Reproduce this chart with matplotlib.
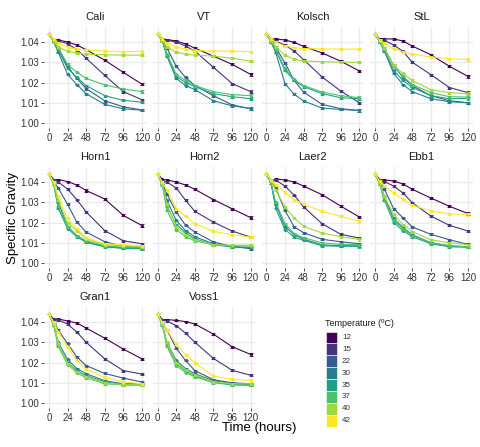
import numpy as np
import matplotlib
matplotlib.use('Agg')
import matplotlib.pyplot as plt
from matplotlib.patches import Rectangle

plt.rcParams['font.family'] = ['Liberation Sans', 'DejaVu Sans']

# sampling times (hours) and temperature levels
hours = [0, 6, 12, 24, 36, 48, 72, 96, 120]
temps = [12, 15, 22, 30, 35, 37, 40, 42]
strains = ['Cali', 'VT', 'Kolsch', 'StL', 'Horn1', 'Horn2', 'Laer2', 'Ebb1',
           'Gran1', 'Voss1']

# viridis(8)
colors = ['#440154', '#46337E', '#365C8D', '#277F8E', '#1FA187', '#4AC16D',
          '#9FDA3A', '#FDE725']

# rough SE per time point (error bars are tiny)
se = [0, 0.0003, 0.0003, 0.0004, 0.0004, 0.0005, 0.0005, 0.0005, 0.0006]

# specific gravity, rows = temps (12..42), cols = hours
cali = [
    [1.0440, 1.0412, 1.0410, 1.0400, 1.0385, 1.0362, 1.0310, 1.0250, 1.0192],
    [1.0440, 1.0410, 1.0405, 1.0392, 1.0362, 1.0320, 1.0235, 1.0155, 1.0115],
    [1.0440, 1.0405, 1.0370, 1.0280, 1.0220, 1.0170, 1.0110, 1.0080, 1.0065],
    [1.0440, 1.0400, 1.0350, 1.0240, 1.0190, 1.0145, 1.0092, 1.0070, 1.0063],
    [1.0440, 1.0405, 1.0360, 1.0270, 1.0225, 1.0185, 1.0135, 1.0112, 1.0103],
    [1.0440, 1.0410, 1.0370, 1.0290, 1.0250, 1.0220, 1.0188, 1.0168, 1.0155],
    [1.0440, 1.0400, 1.0375, 1.0355, 1.0345, 1.0340, 1.0337, 1.0335, 1.0335],
    [1.0440, 1.0415, 1.0395, 1.0375, 1.0365, 1.0360, 1.0355, 1.0352, 1.0353],
]
vt = [
    [1.0440, 1.0415, 1.0412, 1.0405, 1.0390, 1.0370, 1.0330, 1.0290, 1.0240],
    [1.0440, 1.0412, 1.0408, 1.0400, 1.0380, 1.0355, 1.0275, 1.0195, 1.0155],
    [1.0440, 1.0410, 1.0370, 1.0280, 1.0225, 1.0185, 1.0135, 1.0090, 1.0070],
    [1.0440, 1.0405, 1.0330, 1.0220, 1.0185, 1.0165, 1.0110, 1.0085, 1.0072],
    [1.0440, 1.0405, 1.0335, 1.0230, 1.0200, 1.0180, 1.0145, 1.0130, 1.0120],
    [1.0440, 1.0405, 1.0340, 1.0240, 1.0210, 1.0185, 1.0155, 1.0140, 1.0135],
    [1.0440, 1.0405, 1.0375, 1.0350, 1.0340, 1.0335, 1.0330, 1.0320, 1.0305],
    [1.0440, 1.0415, 1.0395, 1.0375, 1.0365, 1.0358, 1.0355, 1.0355, 1.0352],
]
kolsch = [
    [1.0440, 1.0415, 1.0415, 1.0410, 1.0398, 1.0378, 1.0346, 1.0305, 1.0257],
    [1.0440, 1.0412, 1.0405, 1.0385, 1.0355, 1.0313, 1.0227, 1.0158, 1.0100],
    [1.0440, 1.0410, 1.0375, 1.0296, 1.0210, 1.0153, 1.0092, 1.0071, 1.0062],
    [1.0440, 1.0400, 1.0350, 1.0194, 1.0142, 1.0109, 1.0074, 1.0067, 1.0062],
    [1.0440, 1.0400, 1.0360, 1.0260, 1.0210, 1.0180, 1.0145, 1.0125, 1.0120],
    [1.0440, 1.0405, 1.0365, 1.0270, 1.0215, 1.0185, 1.0153, 1.0135, 1.0125],
    [1.0440, 1.0405, 1.0375, 1.0335, 1.0315, 1.0306, 1.0303, 1.0300, 1.0300],
    [1.0440, 1.0415, 1.0400, 1.0380, 1.0372, 1.0367, 1.0366, 1.0365, 1.0365],
]
stl = [
    [1.0440, 1.0415, 1.0415, 1.0415, 1.0405, 1.0380, 1.0337, 1.0280, 1.0230],
    [1.0440, 1.0412, 1.0408, 1.0385, 1.0354, 1.0300, 1.0239, 1.0175, 1.0150],
    [1.0440, 1.0405, 1.0370, 1.0285, 1.0225, 1.0185, 1.0135, 1.0110, 1.0100],
    [1.0440, 1.0400, 1.0355, 1.0245, 1.0190, 1.0155, 1.0120, 1.0105, 1.0100],
    [1.0440, 1.0400, 1.0360, 1.0260, 1.0210, 1.0175, 1.0135, 1.0120, 1.0122],
    [1.0440, 1.0405, 1.0365, 1.0280, 1.0230, 1.0190, 1.0150, 1.0130, 1.0128],
    [1.0440, 1.0405, 1.0370, 1.0285, 1.0245, 1.0210, 1.0165, 1.0150, 1.0145],
    [1.0440, 1.0410, 1.0395, 1.0367, 1.0350, 1.0340, 1.0326, 1.0318, 1.0313],
]
horn1 = [
    [1.0440, 1.0412, 1.0412, 1.0402, 1.0385, 1.0358, 1.0316, 1.0235, 1.0185],
    [1.0440, 1.0410, 1.0400, 1.0365, 1.0313, 1.0252, 1.0160, 1.0110, 1.0095],
    [1.0440, 1.0405, 1.0370, 1.0290, 1.0202, 1.0153, 1.0105, 1.0082, 1.0077],
    [1.0440, 1.0395, 1.0300, 1.0180, 1.0135, 1.0105, 1.0082, 1.0075, 1.0072],
    [1.0440, 1.0390, 1.0270, 1.0170, 1.0130, 1.0102, 1.0080, 1.0072, 1.0070],
    [1.0440, 1.0390, 1.0280, 1.0180, 1.0135, 1.0110, 1.0085, 1.0078, 1.0075],
    [1.0440, 1.0395, 1.0310, 1.0200, 1.0160, 1.0120, 1.0090, 1.0085, 1.0080],
    [1.0440, 1.0400, 1.0330, 1.0220, 1.0170, 1.0125, 1.0095, 1.0090, 1.0085],
]
horn2 = [
    [1.0440, 1.0413, 1.0410, 1.0400, 1.0385, 1.0364, 1.0313, 1.0268, 1.0224],
    [1.0440, 1.0405, 1.0400, 1.0370, 1.0310, 1.0255, 1.0202, 1.0158, 1.0128],
    [1.0440, 1.0395, 1.0340, 1.0252, 1.0186, 1.0153, 1.0104, 1.0082, 1.0071],
    [1.0440, 1.0390, 1.0310, 1.0210, 1.0160, 1.0130, 1.0095, 1.0080, 1.0075],
    [1.0440, 1.0385, 1.0280, 1.0190, 1.0150, 1.0120, 1.0090, 1.0080, 1.0078],
    [1.0440, 1.0385, 1.0260, 1.0165, 1.0130, 1.0110, 1.0090, 1.0085, 1.0085],
    [1.0440, 1.0390, 1.0290, 1.0180, 1.0140, 1.0115, 1.0090, 1.0088, 1.0088],
    [1.0440, 1.0400, 1.0360, 1.0268, 1.0230, 1.0194, 1.0156, 1.0140, 1.0128],
]
laer2 = [
    [1.0440, 1.0405, 1.0415, 1.0410, 1.0400, 1.0380, 1.0337, 1.0281, 1.0227],
    [1.0440, 1.0410, 1.0410, 1.0380, 1.0334, 1.0277, 1.0194, 1.0142, 1.0123],
    [1.0440, 1.0405, 1.0370, 1.0260, 1.0178, 1.0150, 1.0117, 1.0105, 1.0095],
    [1.0440, 1.0395, 1.0290, 1.0180, 1.0140, 1.0118, 1.0090, 1.0085, 1.0085],
    [1.0440, 1.0395, 1.0270, 1.0165, 1.0128, 1.0112, 1.0085, 1.0083, 1.0082],
    [1.0440, 1.0395, 1.0300, 1.0195, 1.0145, 1.0125, 1.0100, 1.0092, 1.0090],
    [1.0440, 1.0405, 1.0360, 1.0277, 1.0222, 1.0181, 1.0148, 1.0130, 1.0117],
    [1.0440, 1.0410, 1.0385, 1.0350, 1.0313, 1.0290, 1.0255, 1.0230, 1.0206],
]
ebb1 = [
    [1.0440, 1.0412, 1.0410, 1.0405, 1.0390, 1.0364, 1.0321, 1.0280, 1.0244],
    [1.0440, 1.0410, 1.0402, 1.0380, 1.0346, 1.0298, 1.0232, 1.0186, 1.0158],
    [1.0440, 1.0405, 1.0365, 1.0268, 1.0224, 1.0178, 1.0142, 1.0115, 1.0092],
    [1.0440, 1.0395, 1.0330, 1.0220, 1.0175, 1.0140, 1.0100, 1.0085, 1.0080],
    [1.0440, 1.0390, 1.0310, 1.0200, 1.0160, 1.0130, 1.0095, 1.0080, 1.0078],
    [1.0440, 1.0390, 1.0315, 1.0210, 1.0170, 1.0135, 1.0100, 1.0085, 1.0080],
    [1.0440, 1.0395, 1.0330, 1.0240, 1.0190, 1.0155, 1.0115, 1.0100, 1.0090],
    [1.0440, 1.0405, 1.0380, 1.0346, 1.0314, 1.0285, 1.0257, 1.0242, 1.0240],
]
gran1 = [
    [1.0440, 1.0410, 1.0415, 1.0405, 1.0395, 1.0370, 1.0320, 1.0266, 1.0218],
    [1.0440, 1.0415, 1.0410, 1.0390, 1.0350, 1.0300, 1.0218, 1.0160, 1.0143],
    [1.0440, 1.0400, 1.0360, 1.0294, 1.0227, 1.0185, 1.0146, 1.0123, 1.0104],
    [1.0440, 1.0390, 1.0300, 1.0215, 1.0170, 1.0145, 1.0110, 1.0095, 1.0095],
    [1.0440, 1.0385, 1.0290, 1.0200, 1.0160, 1.0135, 1.0105, 1.0090, 1.0090],
    [1.0440, 1.0385, 1.0280, 1.0190, 1.0150, 1.0125, 1.0095, 1.0090, 1.0088],
    [1.0440, 1.0390, 1.0295, 1.0195, 1.0155, 1.0130, 1.0100, 1.0090, 1.0090],
    [1.0440, 1.0400, 1.0350, 1.0277, 1.0210, 1.0168, 1.0126, 1.0105, 1.0095],
]
voss1 = [
    [1.0440, 1.0412, 1.0412, 1.0408, 1.0402, 1.0390, 1.0340, 1.0278, 1.0240],
    [1.0440, 1.0412, 1.0405, 1.0382, 1.0345, 1.0300, 1.0220, 1.0162, 1.0137],
    [1.0440, 1.0400, 1.0360, 1.0270, 1.0210, 1.0160, 1.0115, 1.0100, 1.0095],
    [1.0440, 1.0390, 1.0300, 1.0210, 1.0170, 1.0145, 1.0110, 1.0095, 1.0090],
    [1.0440, 1.0385, 1.0290, 1.0195, 1.0160, 1.0135, 1.0105, 1.0090, 1.0088],
    [1.0440, 1.0385, 1.0280, 1.0185, 1.0150, 1.0130, 1.0100, 1.0090, 1.0088],
    [1.0440, 1.0390, 1.0300, 1.0200, 1.0165, 1.0140, 1.0105, 1.0095, 1.0095],
    [1.0440, 1.0400, 1.0360, 1.0290, 1.0237, 1.0200, 1.0133, 1.0117, 1.0112],
]
panels = [cali, vt, kolsch, stl, horn1, horn2, laer2, ebb1, gran1, voss1]

W, H = 480, 447
fig = plt.figure(figsize=(W / 100, H / 100), dpi=100)

GRID = '#EBEBEB'
TXT = '#333333'
xlim = (-6, 126)
ylim = (0.99775, 1.04725)


def px_axes(left, top, w, h):
    return fig.add_axes([left / W, 1 - (top + h) / H, w / W, h / H])


for i, (name, vals) in enumerate(zip(strains, panels)):
    r, c = divmod(i, 4)
    ax = px_axes(44.3 + 108.7 * c, 27.3 + 140 * r, 102.3, 100.3)
    ax.set_xlim(*xlim)
    ax.set_ylim(*ylim)
    for sp in ax.spines.values():
        sp.set_visible(False)
    ax.set_xticks([0, 24, 48, 72, 96, 120])
    ax.set_yticks([1.00, 1.01, 1.02, 1.03, 1.04])
    ax.set_yticklabels(['1.00', '1.01', '1.02', '1.03', '1.04'])
    ax.grid(color=GRID, linewidth=1.0, zorder=0)
    ax.tick_params(length=2.2, width=0.6, color='#333333',
                   labelsize=7, labelcolor=TXT, pad=1.5)
    if c != 0:
        ax.set_yticklabels([])
        ax.tick_params(axis='y', length=0)
    ax.set_axisbelow(True)

    for j, t in enumerate(temps):
        ax.errorbar(hours, vals[j], yerr=se, color=colors[j], linewidth=0.8,
                    elinewidth=0.6, capsize=1.4, capthick=0.6,
                    marker='o', markersize=1.3, zorder=2 + j)
    ax.set_title(name, fontsize=8, pad=5, color='#1A1A1A')

fig.text(259 / W, 1 - 428.5 / H, 'Time (hours)', ha='center', va='center',
         fontsize=9.5, color='black')
fig.text(13 / W, 1 - 218 / H, 'Specific Gravity', ha='center', va='center',
         rotation=90, fontsize=9.5, color='black')

# legend
fig.text(325 / W, 1 - 323 / H, 'Temperature (ºC)', ha='left', va='center',
         fontsize=6.5, color='#1A1A1A')
lax = fig.add_axes([0, 0, 1, 1])
lax.set_xlim(0, W)
lax.set_ylim(H, 0)
lax.axis('off')
for j, t in enumerate(temps):
    top = 331.5 + 11.9 * j
    lax.add_patch(Rectangle((325.5, top), 11.3, 11.9, facecolor=colors[j],
                            edgecolor='white', linewidth=0.4))
    lax.text(342, top + 6, str(t), ha='left', va='center', fontsize=5.8,
             color=TXT)

fig.savefig('out.png', dpi=100)
